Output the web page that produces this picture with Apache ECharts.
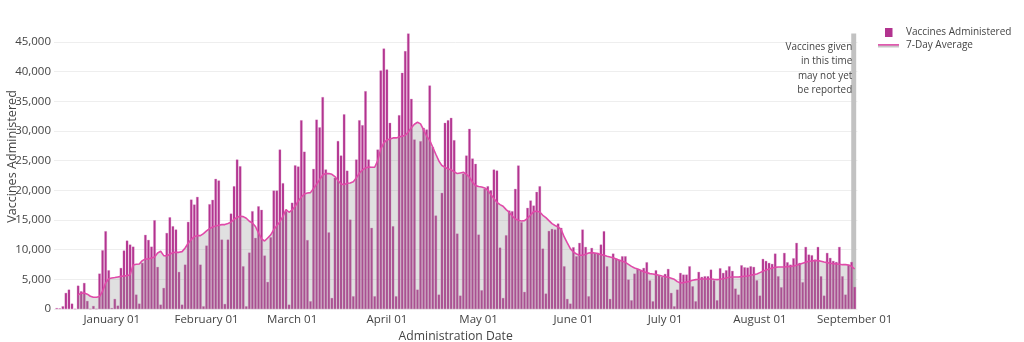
<!DOCTYPE html>
<html>
<head>
<meta charset="utf-8">
<script src="https://cdn.jsdelivr.net/npm/echarts@6/dist/echarts.min.js"></script>
<style>html,body{margin:0;padding:0;background:#fff}#chart{width:1024px;height:342px}</style>
</head>
<body>
<div id="chart"></div>
<script>
// ---- data (daily, Dec 14 2020 -> Sep 1 2021) ----
const barsDec = [150,100,450,2700,3260,900,0,3930,2980,4380,1350,0,500,0,5960,9890,13100,6520];
const barsJan = [150,1690,560,6910,9840,11520,10850,10500,2420,900,7760,12480,11630,10500,14950,7080,730,3540,12800,15450,13940,13380,6240,730,7470,14670,18430,17590,18880,7470,450];
const barsFeb = [10680,17650,18380,21920,21640,11690,840,11690,16070,20680,25180,24050,7190,450,9500,16470,11970,17300,16700,9000,4550,12080,19950,19950,26860,21190,16470,730];
const barsMar = [17900,24200,24000,31800,26500,11600,1300,23600,31900,30600,35700,23500,12900,1850,22100,28300,25850,32800,23300,15060,2140,25180,31800,30970,36700,25180,13660,2140,26860,40180,43890];
const barsApr = [40350,31360,13940,2140,32650,39790,43440,46420,35400,28550,3260,28270,30520,30240,37650,27300,15740,2420,19560,31360,31800,32200,28440,12700,2250,22800,25850,30350,25350,24450];
const barsMay = [12530,3150,20230,20680,20000,23490,23320,10340,1850,12420,16580,16470,20230,24170,14610,2870,17030,18270,17420,19730,20680,10170,2590,13150,13490,13380,14390,13660,7190,1690,900];
const barsJun = [10400,8880,11130,13380,10450,2140,10280,9440,9440,10850,13100,7190,1690,9330,8490,8320,8880,8880,4950,1460,5960,6740,6520,6910,7870,4800,1290,6520,5620,5400];
const barsJul = [5900,6740,2700,450,3260,6070,5790,5790,7190,3820,1290,6240,5400,5510,5510,6630,4830,1460,6860,6070,6520,7190,6410,3430,2420,7360,7020,6970,7190,7080,4830];
const barsAug = [2250,8430,8090,7760,7590,9330,5510,3650,9440,7870,7470,8540,11130,7760,4500,10450,9160,9050,8320,10450,5510,2250,9440,8600,8090,7920,10450,5510,2420,7420,7920];
const barsSep = [3710];

const avgDec = [null,null,null,null,null,null,null,2400,2650,2700,2500,2150,1970,1970,2100,3000,4400,5100];
const avgJan = [5230,5300,5400,5500,5560,5620,5790,7420,7530,7590,8150,8430,8430,8600,8770,9440,9720,8990,8940,9220,9500,9550,9550,9670,10280,11070,11690,12200,12360,12360,12700];
const avgFeb = [13150,13540,13830,13990,14110,14220,14220,14390,14610,15120,15450,15620,15570,15290,14780,14500,13900,12810,11800,11460,11970,12480,13380,14050,14720,15620,16750,16300];
const avgMar = [16690,17310,18210,18830,19390,19560,19610,20290,21020,21800,22590,22820,22820,22700,22310,21630,21070,20960,21180,21240,21460,22090,22870,23430,23770,23940,23880,23880,25010,26980,27990];
const avgApr = [28490,28660,28830,28830,29000,29110,29280,29840,30570,31140,31470,31190,30180,29110,28440,27260,26080,24950,24170,23880,23600,23490,23120,22820,22930,23040,22700,22200,21360,20790];
const avgMay = [20630,20570,20400,20010,19280,18600,17980,17590,17310,16750,16300,15680,15170,14950,14840,14890,15290,15850,16410,16470,16350,15790,15400,14890,14390,14080,13830,13380,12140,11130,10170];
const avgJun = [9610,9270,9050,9050,9220,9440,9500,9440,9330,9160,9050,8880,8770,8650,8430,8210,8040,7870,7530,7190,6910,6740,6520,6290,6130,5960,5900,5790,5680,5560];
const avgJul = [5450,5340,5170,5000,4610,4380,4440,4550,4660,4830,4950,5000,5060,5060,5060,5060,5000,4950,5000,5110,5230,5340,5400,5400,5400,5450,5510,5560,5680,5790,5900];
const avgAug = [6130,6350,6580,6740,6910,7020,7080,7080,7080,7140,7190,7250,7360,7530,7700,7870,8040,8090,8150,8150,8040,7920,7810,7700,7640,7590,7530,7470,7470,7420,7190];
const avgSep = [6740];

// month blocks: [year, month(1-12), first day]
const monthBlocks = [[2020,12,14],[2021,1,1],[2021,2,1],[2021,3,1],[2021,4,1],[2021,5,1],[2021,6,1],[2021,7,1],[2021,8,1],[2021,9,1]];
const barBlocks = [barsDec,barsJan,barsFeb,barsMar,barsApr,barsMay,barsJun,barsJul,barsAug,barsSep];
const avgBlocks = [avgDec,avgJan,avgFeb,avgMar,avgApr,avgMay,avgJun,avgJul,avgAug,avgSep];

// tick labels by month of 2021 (index 0 = January)
const tickLabels = ['January 01','February 01','March 01','April 01','May 01','June 01','July 01','August 01','September 01'];

const annotationText = 'Vaccines given\nin this time\nmay not yet\nbe reported';

// ---- build series data ----
const barData = [], avgData = [];
monthBlocks.forEach((mb, k) => {
  barBlocks[k].forEach((v, i) => {
    const t = new Date(mb[0], mb[1]-1, mb[2]+i).getTime();
    barData.push([t, v]);
    avgData.push([t, avgBlocks[k][i]]);
  });
});

const FONT = '"Open Sans", "DejaVu Sans", sans-serif';
const barColor = '#b2338f';
const lineColor = '#e04aa9';

const barIconSvg = "<svg xmlns='http://www.w3.org/2000/svg' width='23' height='10'><rect x='7' y='0.5' width='7.5' height='9' fill='" + barColor + "'/></svg>";
const lineIconSvg = "<svg xmlns='http://www.w3.org/2000/svg' width='23' height='10'><rect x='0' y='4' width='21' height='3' fill='#c8c8c8'/><rect x='0' y='3.6' width='21' height='1.5' fill='" + lineColor + "'/></svg>";
const barIcon = 'image://data:image/svg+xml;charset=utf-8,' + encodeURIComponent(barIconSvg);
const lineIcon = 'image://data:image/svg+xml;charset=utf-8,' + encodeURIComponent(lineIconSvg);

const maxVal = Math.max(...barData.map(d => d[1]));
const DAY = 86400000;

const chart = echarts.init(document.getElementById('chart'), null, {renderer: 'canvas'});
chart.setOption({
  animation: false,
  backgroundColor: '#fff',
  grid: {left: 54, right: 166.6, top: 20, bottom: 33, containLabel: false, outerBoundsMode: 'none'},
  legend: {
    left: 878, top: 27.5, orient: 'vertical', padding: 0,
    itemWidth: 23, itemHeight: 10, itemGap: 3,
    selectedMode: false,
    textStyle: {color: '#444', fontFamily: FONT, fontSize: 10},
    data: [{name: 'Vaccines Administered', icon: barIcon}, {name: '7-Day Average', icon: lineIcon}]
  },
  xAxis: {
    type: 'time',
    min: new Date(2020, 11, 13, 12).getTime(),
    max: new Date(2021, 8, 1, 12).getTime(),
    minInterval: 28 * DAY,
    maxInterval: 31 * DAY,
    axisLine: {show: false},
    axisTick: {show: false},
    splitLine: {show: false},
    axisLabel: {
      formatter: function (v) {
        const d = new Date(v);
        if (d.getDate() !== 1 || d.getFullYear() !== 2021) return '';
        return tickLabels[d.getMonth()] || '';
      },
      color: '#444', fontFamily: FONT, fontSize: 11.5, margin: 5, hideOverlap: false,
      showMinLabel: false, showMaxLabel: false
    },
    name: 'Administration Date', nameLocation: 'middle', nameGap: 22, nameMoveOverlap: false,
    nameTextStyle: {color: '#444', fontFamily: FONT, fontSize: 12.2}
  },
  yAxis: {
    type: 'value', min: 0, max: 48700, interval: 5000,
    axisLine: {show: false}, axisTick: {show: false},
    splitLine: {show: true, showMaxLine: false, lineStyle: {color: '#eeeeee', width: 1}},
    axisLabel: {
      formatter: v => v.toLocaleString('en-US'),
      color: '#444', fontFamily: FONT, fontSize: 11.5, margin: 3, showMaxLabel: false
    },
    name: 'Vaccines Administered', nameLocation: 'middle', nameGap: 35, nameMoveOverlap: false,
    nameTextStyle: {color: '#444', fontFamily: FONT, fontSize: 12.6, padding: [0, 0, 0, 16]}
  },
  series: [
    {
      type: 'line', data: [], z: 1, silent: true,
      markArea: {
        silent: true,
        itemStyle: {color: '#c2c2c2'},
        label: {
          show: true, position: 'insideTopRight', distance: 0,
          offset: [-4, 6], color: '#444', fontFamily: FONT, fontSize: 9.9, lineHeight: 14.5,
          align: 'right', verticalAlign: 'top',
          formatter: annotationText
        },
        data: [[{xAxis: new Date(2021, 7, 30, 21).getTime(), yAxis: 0}, {xAxis: new Date(2021, 8, 1, 12).getTime(), yAxis: maxVal}]]
      }
    },
    {
      name: 'Vaccines Administered', type: 'bar', data: barData, z: 2,
      barWidth: '78%',
      itemStyle: {color: barColor, borderColor: '#cf6cb4', borderWidth: 0.3}
    },
    {
      name: '7-Day Average', type: 'line', data: avgData, z: 3,
      symbol: 'none', connectNulls: false,
      lineStyle: {color: lineColor, width: 1.6},
      areaStyle: {color: 'rgba(150,150,150,0.42)'}
    }
  ]
});
</script>
</body>
</html>
